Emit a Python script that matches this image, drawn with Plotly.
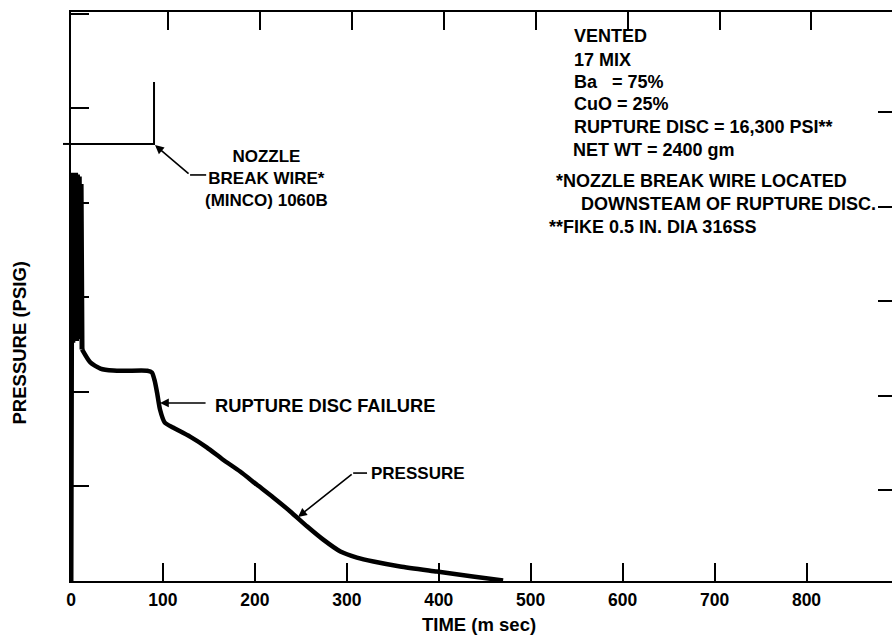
import plotly.graph_objects as go

# ---------------- data ----------------
# initial oscillating pressure spike (ms, psig)
spike_t = [0, 1, 2, 3, 4, 5, 6, 7, 8, 9, 10, 11, 12]
spike_p = [0, 21600, 12600, 21600, 12700, 21600, 12700, 21500, 12800, 21400, 12800, 21000, 12250]

# pressure decay after the spike (ms, psig)
decay_t = [12, 21, 32, 46, 60, 83, 88, 91, 93.6, 96.8, 102, 111, 129.5, 148, 165, 184,
           202, 220, 238.5, 257, 274, 293, 311, 329, 358, 398, 437, 470]
decay_p = [12250, 11560, 11240, 11130, 11120, 11120, 11030, 10600, 9970, 9070, 8380, 8120,
           7640, 7060, 6430, 5790, 5100, 4420, 3680, 2880, 2200, 1560, 1240, 1030, 770,
           500, 240, 30]

# nozzle break wire signal (ms, level)
wire_t = [0, 90.3, 90.3]
wire_p = [23120, 23120, 26400]

x_ticks = [0, 100, 200, 300, 400, 500, 600, 700, 800]
y_ticks = [5000, 10000, 15000, 20000, 25000, 30000]

notes = ["VENTED", "17 MIX", "Ba\u00a0\u00a0 = 75%", "CuO = 25%",
         "RUPTURE DISC = 16,300 PSI**", "NET WT = 2400 gm",
         "*NOZZLE BREAK WIRE LOCATED<br>\u00a0\u00a0\u00a0\u00a0\u00a0DOWNSTEAM OF RUPTURE DISC.",
         "**FIKE 0.5 IN. DIA 316SS"]
wire_label = "NOZZLE<br>BREAK WIRE*<br>(MINCO) 1060B"

# ---------------- layout geometry ----------------
W, H = 892, 639
L, R, T, B = 71, 0, 12, 58
PW, PH = W - L - R, H - T - B
X_RANGE = [0, 893]
Y_RANGE = [0, 30100]
FONT = "Liberation Sans"


def ppos(X, Y):
    return dict(x=(X - L) / PW, y=(H - B - Y) / PH, xref="paper", yref="paper")


def bfont(size):
    return dict(family=FONT, size=size, color="black", weight="bold")


fig = go.Figure()
fig.add_trace(go.Scatter(x=spike_t, y=spike_p, mode="lines",
                         line=dict(color="black", width=5), showlegend=False, hoverinfo="skip"))
fig.add_trace(go.Scatter(x=decay_t, y=decay_p, mode="lines",
                         line=dict(color="black", width=4.5, shape="spline", smoothing=0.6),
                         showlegend=False, hoverinfo="skip"))
fig.add_trace(go.Scatter(x=wire_t, y=wire_p, mode="lines",
                         line=dict(color="black", width=2), showlegend=False, hoverinfo="skip"))
# carrier for the top / right tick axes
fig.add_trace(go.Scatter(x=[None], y=[None], xaxis="x2", yaxis="y2", mode="lines",
                         showlegend=False, hoverinfo="skip"))

annotations = []
# right-hand notes
note_pos = [(572, 36), (572, 60), (572, 82), (572, 104), (572, 127), (571, 150),
            (554, 192.5), (547, 227)]
for txt, (X, Y) in zip(notes, note_pos):
    annotations.append(dict(text=txt, showarrow=False, xanchor="left", yanchor="middle",
                            align="left", font=bfont(18), **ppos(X, Y)))

# nozzle break wire label
annotations.append(dict(text=wire_label, showarrow=False, xanchor="center", yanchor="middle",
                        align="center", font=bfont(17), **ppos(266, 178)))
annotations.append(dict(text="RUPTURE DISC FAILURE", showarrow=False, xanchor="left",
                        yanchor="middle", font=bfont(18.3), **ppos(213, 405)))
annotations.append(dict(text="PRESSURE", showarrow=False, xanchor="left",
                        yanchor="middle", font=bfont(17), **ppos(369, 473)))

# leader arrows (data coordinates)
arrow_style = dict(showarrow=True, arrowhead=2, arrowsize=1.1, arrowwidth=1.6,
                   arrowcolor="black", text="", xref="x", yref="y", axref="x", ayref="y")
annotations.append(dict(x=91.4, y=23060, ax=129.5, ay=21480, **arrow_style))
annotations.append(dict(x=96.8, y=9420, ax=148, ay=9420, **arrow_style))
annotations.append(dict(x=247, y=3390, ax=306.9, ay=5710, **arrow_style))

# axis titles
annotations.append(dict(text="TIME (m sec)", showarrow=False, xanchor="center",
                        yanchor="middle", font=bfont(18.5), **ppos(479, 624)))
annotations.append(dict(text="PRESSURE (PSIG)", showarrow=False, xanchor="center",
                        yanchor="middle", textangle=-90, font=bfont(18.5), **ppos(18.5, 343)))

shapes = [
    # horizontal leader dashes
    dict(type="line", xref="x", yref="y", x0=129.5, x1=147, y0=21480, y1=21480,
         line=dict(color="black", width=1.6)),
    dict(type="line", xref="x", yref="y", x0=306.9, x1=322, y0=5710, y1=5710,
         line=dict(color="black", width=1.6)),
    # stub of the break-wire baseline left of the axis
    dict(type="line", xref="paper", yref="y", x0=-8 / PW, x1=0, y0=23120, y1=23120,
         line=dict(color="black", width=2)),
]

axis_common = dict(showgrid=False, zeroline=False, ticks="inside", ticklen=18, tickwidth=2,
                   tickcolor="black", linecolor="black", linewidth=2)

fig.update_layout(
    width=W, height=H, margin=dict(l=L, r=R, t=T, b=B, pad=0),
    paper_bgcolor="white", plot_bgcolor="white", showlegend=False,
    xaxis=dict(range=X_RANGE, tickvals=x_ticks, ticktext=[str(v) for v in x_ticks],
               showline=True, tickfont=bfont(17.5), ticklabelstandoff=2, **axis_common),
    yaxis=dict(range=Y_RANGE, tickvals=y_ticks, showticklabels=False, showline=True,
               **axis_common),
    xaxis2=dict(overlaying="x", side="top", range=[X_RANGE[0] - 5.4, X_RANGE[1] - 5.4],
                tickvals=x_ticks[1:], showticklabels=False, showline=True, **axis_common),
    yaxis2=dict(overlaying="y", side="right", range=[Y_RANGE[0] + 212, Y_RANGE[1] + 212],
                tickvals=y_ticks[:-1], showticklabels=False, showline=False,
                showgrid=False, zeroline=False, ticks="inside", ticklen=14, tickwidth=2,
                tickcolor="black"),
    annotations=annotations, shapes=shapes,
)

fig.write_html("out.html")
